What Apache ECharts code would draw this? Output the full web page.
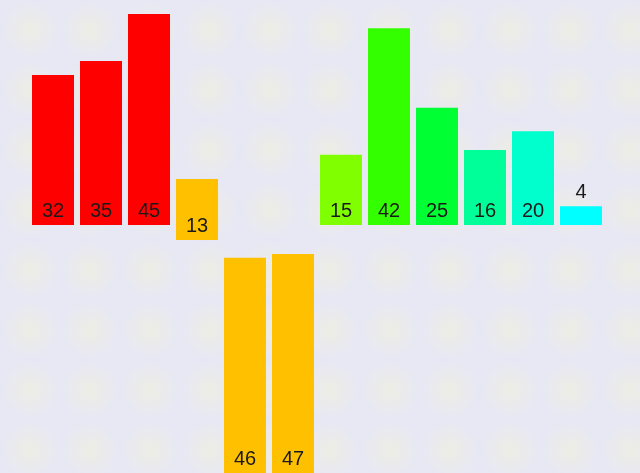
<!DOCTYPE html>
<html>
<head>
<meta charset="utf-8">
<script src="https://cdn.jsdelivr.net/npm/echarts@6/dist/echarts.min.js"></script>
<style>
html,body{margin:0;padding:0;background:#e9e9f4;}
#main{width:640px;height:473px;}
</style>
</head>
<body>
<div id="main"></div>
<script>
// Data
var categories = ['1','2','3','4','5','6','7','8','9','10','11','12'];
var values = [32, 35, 45, 13, 46, 47, 15, 42, 25, 16, 20, 4];
// invisible stacked offsets (value units) for the displaced bars
var baseValues = [0, 0, 0, -3.2, -53.0, -53.2, 0, 0, 0, 0, 0, 0];
var barColors = ['#ff0000','#ff0000','#ff0000','#ffc000','#ffc000','#ffc000',
                 '#80ff00','#33ff00','#00ff33','#00ff99','#00ffcc','#00ffff'];
var labelPositions = ['insideBottom','insideBottom','insideBottom','insideBottom','insideBottom','insideBottom',
                      'insideBottom','insideBottom','insideBottom','insideBottom','insideBottom','top'];

// background pattern
var pat = document.createElement('canvas');
pat.width = 60; pat.height = 60;
var ctx = pat.getContext('2d');
ctx.fillStyle = '#e8e8f4';
ctx.fillRect(0, 0, 60, 60);
var g = ctx.createRadialGradient(30, 30, 0, 30, 30, 28);
g.addColorStop(0, 'rgba(244,244,205,0.4)');
g.addColorStop(1, 'rgba(244,244,205,0)');
ctx.fillStyle = g;
ctx.fillRect(0, 0, 60, 60);

var chart = echarts.init(document.getElementById('main'), null, {renderer: 'canvas'});
chart.setOption({
  animation: false,
  backgroundColor: {image: pat, repeat: 'repeat'},
  grid: {left: 29, right: 35, top: 0, bottom: 0},
  xAxis: {
    type: 'category',
    data: categories,
    show: false
  },
  yAxis: {
    type: 'value',
    min: -52.9,
    max: 48,
    show: false,
    splitLine: {show: false}
  },
  series: [
    {
      type: 'bar',
      stack: 'all',
      stackStrategy: 'all',
      barCategoryGap: '12.5%',
      silent: true,
      itemStyle: {color: 'rgba(0,0,0,0)'},
      data: baseValues
    },
    {
      type: 'bar',
      stack: 'all',
      stackStrategy: 'all',
      barCategoryGap: '12.5%',
      clip: true,
      label: {
        show: true,
        fontSize: 20,
        fontFamily: 'Liberation Sans, Arial, sans-serif',
        color: '#1a1a1a',
        distance: 4
      },
      data: values.map(function (v, i) {
        return {
          value: v,
          itemStyle: {color: barColors[i]},
          label: {position: labelPositions[i]}
        };
      })
    }
  ]
});
</script>
</body>
</html>
